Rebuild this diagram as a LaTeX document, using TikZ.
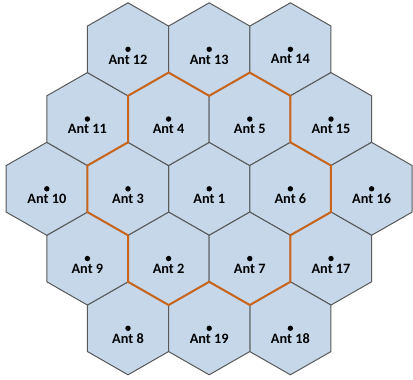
\documentclass[tikz,border=0pt]{standalone}
\usepackage{fontspec}
\setmainfont{Carlito}
\usetikzlibrary{positioning}
\definecolor{cellfill}{HTML}{C5D7E9}
\definecolor{celledge}{HTML}{595959}
\definecolor{corange}{HTML}{C9651B}
\tikzset{
  every picture/.style={font=\bfseries\fontsize{14.3}{16}\selectfont},
  cell/.style={fill=cellfill, draw=celledge, line width=1pt, line join=miter},
  cluster/.style={draw=corange, line width=2pt, line join=miter},
  ant/.style={circle, fill=black, inner sep=0pt, minimum size=5.4pt},
  antlabel/.style={inner sep=0pt},
}
\begin{document}
\begin{tikzpicture}[x=40.6pt, y=69.75pt]
  \useasboundingbox (-5.153,-2.727) rectangle (5.02,2.707);
  % cells: number / column / row
  \foreach \n/\cx/\cy in {1/0/0, 2/-1/-1, 3/-2/0, 4/-1/1, 5/1/1, 6/2/0, 7/1/-1,
      8/-2/-2, 9/-3/-1, 10/-4/0, 11/-3/1, 12/-2/2, 13/0/2, 14/2/2,
      15/3/1, 16/4/0, 17/3/-1, 18/2/-2, 19/0/-2} {
    \draw[cell] (\cx,\cy) ++(0,2/3) -- ++(1,-1/3) -- ++(0,-2/3) -- ++(-1,-1/3)
      -- ++(-1,1/3) -- ++(0,2/3) -- cycle;
    \node[ant] (a\n) at (\cx,\cy) {};
    \node[antlabel, below=2.3pt of a\n] (l\n) {Ant \n};
  }
  % outline of the inner cluster
  \draw[cluster] (-1,5/3) -- (0,4/3) -- (1,5/3) -- (2,4/3) -- (2,2/3) -- (3,1/3)
    -- (3,-1/3) -- (2,-2/3) -- (2,-4/3) -- (1,-5/3) -- (0,-4/3) -- (-1,-5/3)
    -- (-2,-4/3) -- (-2,-2/3) -- (-3,-1/3) -- (-3,1/3) -- (-2,2/3) -- (-2,4/3) -- cycle;
\end{tikzpicture}
\end{document}
